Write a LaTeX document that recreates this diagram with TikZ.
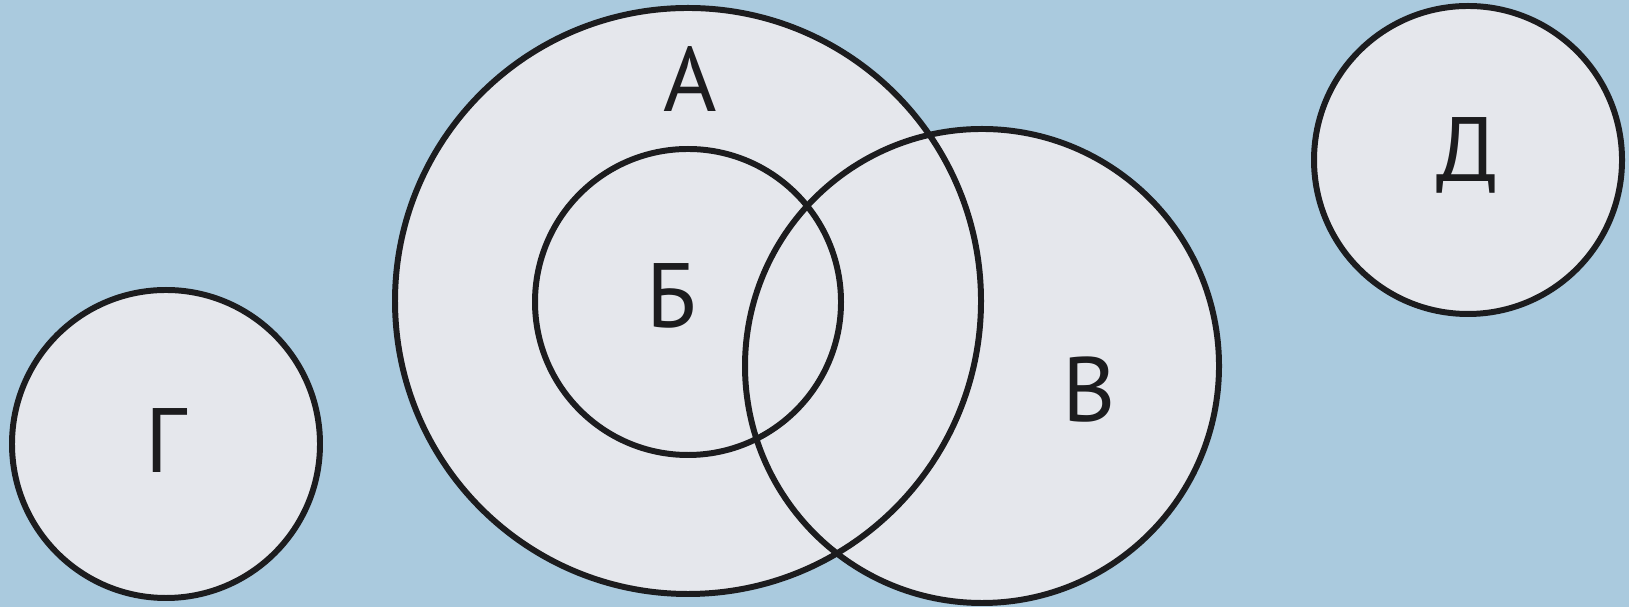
\documentclass[tikz,border=0pt]{standalone}
\usepackage{fontspec}
\setmainfont{PT Sans}
\usepackage{xcolor}
\definecolor{bookBlue}{RGB}{170, 202, 222}
\definecolor{setFill}{RGB}{229, 231, 236}
\definecolor{setLine}{RGB}{28, 28, 30}
\usetikzlibrary{positioning}

\begin{document}
\begin{tikzpicture}[
  set/.style={circle, draw=setLine, line width=1.7pt, inner sep=0pt},
  lab/.style={anchor=base, inner sep=0pt, font=\fontsize{26}{30}\selectfont, text=setLine}
]
%% background
\fill[bookBlue] (0,0) rectangle (16.29,6.07);
\useasboundingbox (0,0) rectangle (16.29,6.07);

%% fills first, so every outline stays visible
\foreach \x/\y/\r in {6.88/3.06/2.93, 9.82/2.41/2.37, 1.66/1.63/1.54, 14.68/4.47/1.54}
  \fill[setFill] (\x,\y) circle (\r);

%% sets
\node[set, minimum size=5.86cm] (a) at (6.88,3.06) {};
\node[set, minimum size=3.06cm] (b) at (6.88,3.05) {};
\node[set, minimum size=4.74cm] (v) at (9.82,2.41) {};
\node[set, minimum size=3.08cm] (g) at (1.66,1.63) {};
\node[set, minimum size=3.08cm] (d) at (14.68,4.47) {};

%% letters
\node[lab] (la) at (6.90,4.95) {А};
\node[lab] (lb) at (6.72,2.79) {Б};
\node[lab] (lv) at (10.89,1.85) {В};
\node[lab] (lg) at (1.66,1.34) {Г};
\node[lab] (ld) at (14.67,4.25) {Д};
\end{tikzpicture}
\end{document}
